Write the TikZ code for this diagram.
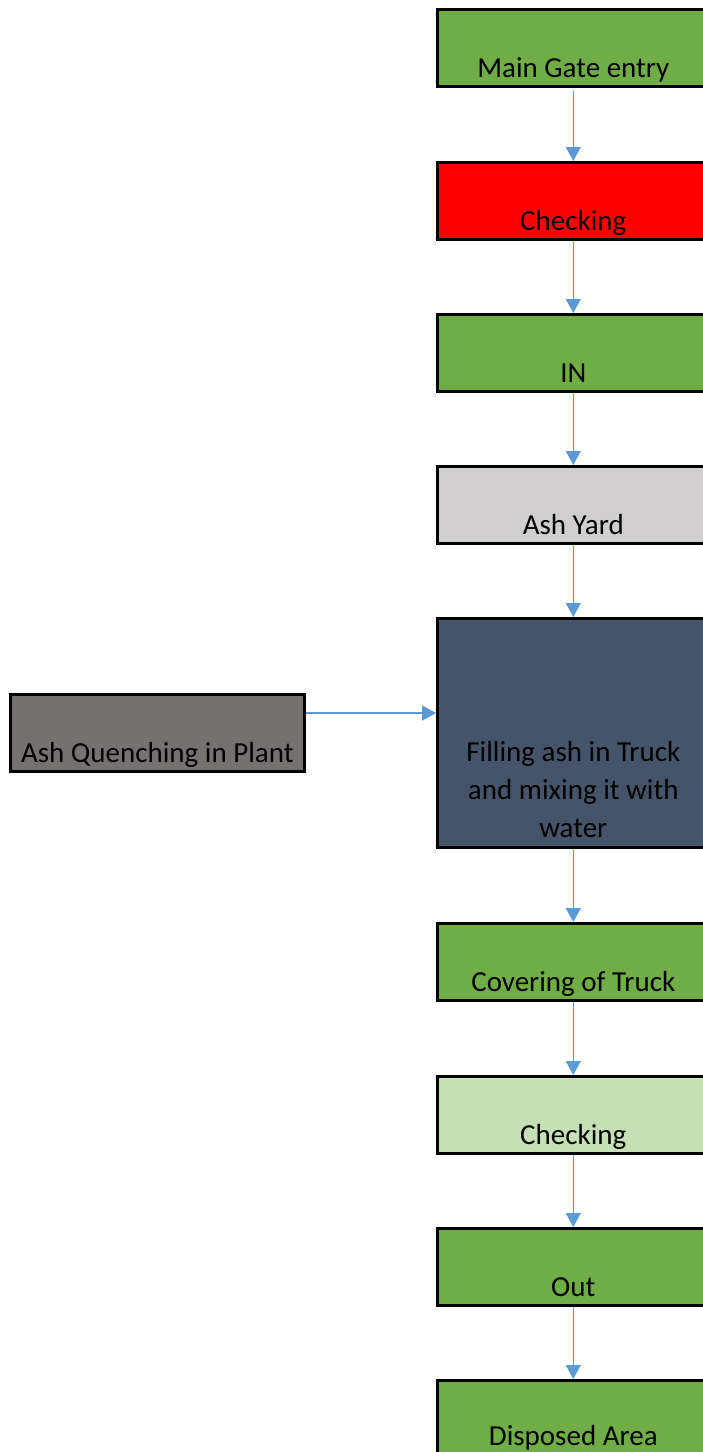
\documentclass[tikz,border=0pt]{standalone}
\usepackage{fontspec}
\setmainfont{Carlito}
\usetikzlibrary{arrows.meta,positioning}
\definecolor{boxgreen}{HTML}{70AD47}
\definecolor{boxred}{HTML}{FF0000}
\definecolor{boxgrey}{HTML}{D0CECE}
\definecolor{boxslate}{HTML}{44546A}
\definecolor{boxtaupe}{HTML}{757171}
\definecolor{boxpale}{HTML}{C5E0B4}
\definecolor{flowblue}{HTML}{5B9BD5}
\tikzset{
  stepbox/.style={draw=black, line width=2.6pt, anchor=north west, inner sep=0pt,
    minimum width=272pt, minimum height=77pt},
  lbl/.style={anchor=base, inner sep=0pt, font=\fontsize{29}{38}\selectfont},
  flow/.style={draw=flowblue, line width=1.5pt, -{Triangle[width=15pt,length=14pt]}}
}
\begin{document}
\begin{tikzpicture}[x=1pt,y=1pt]
            \useasboundingbox (0,0) rectangle (702,-1452);
            \node[stepbox, fill=boxgreen] (gate) at (436,-8) {};
            \node[stepbox, fill=boxred] (check) at (436,-161) {};
            \node[stepbox, fill=boxgreen] (in) at (436,-313) {};
            \node[stepbox, fill=boxgrey] (yard) at (436,-465) {};
            \node[stepbox, fill=boxslate, minimum height=229pt] (fill) at (436,-617) {};
            \node[stepbox, fill=boxgreen] (cover) at (436,-922) {};
            \node[stepbox, fill=boxpale] (recheck) at (436,-1075) {};
            \node[stepbox, fill=boxgreen] (out) at (436,-1227) {};
            \node[stepbox, fill=boxgreen] (dispose) at (436,-1379) {};
            \node[stepbox, fill=boxtaupe, minimum width=294pt] (quench) at (9,-693) {};
            \node[lbl] (gatetext) at ([yshift=10pt]gate.south) {Main Gate entry};
            \node[lbl] (checktext) at ([yshift=10pt]check.south) {Checking};
            \node[lbl] (intext) at ([yshift=10pt]in.south) {IN};
            \node[lbl] (yardtext) at ([yshift=10pt]yard.south) {Ash Yard};
            \node[lbl, anchor=south, align=center] (filltext) at ([yshift=11pt]fill.south) {Filling ash in Truck\\and mixing it with\\water};
            \node[lbl] (covertext) at ([yshift=10pt]cover.south) {Covering of Truck};
            \node[lbl] (rechecktext) at ([yshift=10pt]recheck.south) {Checking};
            \node[lbl] (outtext) at ([yshift=10pt]out.south) {Out};
            \node[lbl] (disposetext) at ([yshift=-66pt]dispose.north) {Disposed Area};
            \node[lbl] (quenchtext) at ([yshift=10pt]quench.south) {Ash Quenching in Plant};
            \coordinate (qout) at (quench.east |- 0,-713);
            \coordinate (fin) at (fill.west |- 0,-713);
            \draw[flow] ([yshift=-3pt]gate.south) -- (check.north);
            \draw[flow] (check) -- (in);
            \draw[flow] (in) -- (yard);
            \draw[flow] (yard) -- (fill);
            \draw[flow] (qout) -- (fin);
            \draw[flow] (fill) -- (cover);
            \draw[flow] (cover) -- (recheck);
            \draw[flow] (recheck) -- (out);
            \draw[flow] (out) -- (dispose);
        \end{tikzpicture}
\end{document}
